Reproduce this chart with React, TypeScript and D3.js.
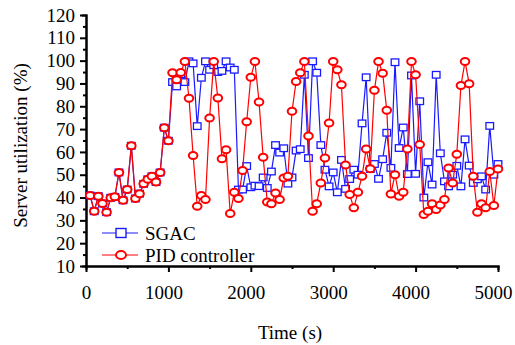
import { useEffect, useRef } from "react"
import * as d3 from "d3"

// sample times: every 50 s from 50 to 5000
const times = d3.range(50, 5001, 50)

const sgac = [
  40.9, 34, 40.6, 37.4, 33.6, 39.9, 40.3, 51, 38.8, 43.5,
  62.7, 39.6, 41.7, 46, 48, 49.3, 46.8, 51, 70.6, 64.9,
  90.6, 88.7, 94, 90.6, 99.7, 98.8, 71.3, 92.5, 99.7, 96,
  98, 95, 95.5, 99.7, 97, 96, 43.5, 43.5, 53.8, 44.5,
  45.2, 45, 48.8, 44.2, 51.4, 63, 59.7, 61.6, 46.1, 48.8,
  60.6, 61.2, 93.8, 57.3, 99.7, 94.7, 63, 52.2, 44.9, 51,
  42.3, 56.5, 43.8, 48.1, 52.2, 50, 72.5, 92.7, 52.5, 54.7,
  48.2, 56.8, 68.4, 53, 99.3, 61.7, 70.7, 50.3, 93.5, 50.4,
  82.2, 40, 55.5, 45.7, 93.8, 59.4, 47.1, 44.9, 50, 53.9,
  44.9, 65.5, 54, 46.4, 48, 49.3, 43.5, 71.4, 50, 54.7,
]

const pid = [
  40.9, 34, 40.6, 37.4, 33.6, 39.9, 40.3, 51, 38.8, 43.5,
  62.7, 39.6, 41.7, 46, 48, 49.3, 46.8, 51, 70.6, 64.9,
  94.7, 91.6, 94.8, 99.6, 83.5, 58.4, 36.2, 40.9, 39.1, 74.9,
  99.6, 83.6, 57, 60.9, 33, 42.3, 39.6, 51.9, 73.2, 92.7,
  99.6, 81.9, 57.7, 38, 37.3, 42, 39.1, 48.6, 49.3, 77.8,
  90.9, 94.7, 99.6, 67, 34, 37.3, 46.4, 57.3, 72.7, 99.6,
  96, 89.4, 54.3, 41.3, 35.5, 42.3, 49.3, 61.3, 52.6, 87,
  99.6, 94.5, 78.3, 41.6, 50, 40.6, 42.3, 61.3, 99.6, 93.8,
  63.3, 32.6, 34, 37.3, 34.8, 36.7, 39.1, 52.9, 46.4, 59,
  89.1, 99.6, 89.9, 49.3, 33.6, 37.3, 35.5, 51.4, 36.5, 52.5,
]

const xTicks = [0, 1000, 2000, 3000, 4000, 5000]
const yTicks = [10, 20, 30, 40, 50, 60, 70, 80, 90, 100, 110, 120]
const seriesNames = ["SGAC", "PID controller"]

export default function App() {
  const svgRef = useRef<SVGSVGElement>(null)

  useEffect(() => {
    if (!svgRef.current) return
    const svg = d3.select(svgRef.current)
    svg.selectAll("*").remove()

    const font = "'Liberation Serif', 'Times New Roman', serif"
    const blue = "#1a1aff"
    const red = "#ff0000"

    const x = d3.scaleLinear().domain([0, 5000]).range([86, 498])
    const y = d3.scaleLinear().domain([10, 120]).range([266, 15])

    // axes
    const xAxis = svg.append("g").attr("transform", `translate(0,${y(10)})`)
    xAxis
      .call(d3.axisBottom(x).tickValues(d3.range(500, 5000, 1000)).tickSize(3).tickFormat(() => ""))
    xAxis.append("g")
      .call(d3.axisBottom(x).tickValues(xTicks).tickSize(6).tickSizeOuter(0).tickPadding(14).tickFormat(d3.format("d")))
    xAxis.selectAll("path, line").attr("stroke", "#000").attr("stroke-width", 2)
    xAxis.selectAll("text")
      .attr("fill", "#000")
      .attr("dx", (d) => (d === 0 ? 0 : -5))
      .style("font-family", font)
      .style("font-size", "19px")

    const yAxis = svg.append("g").attr("transform", `translate(${x(0)},0)`)
    yAxis.call(d3.axisLeft(y).tickValues(d3.range(15, 120, 10)).tickSize(3).tickFormat(() => ""))
    yAxis.append("g")
      .call(d3.axisLeft(y).tickValues(yTicks).tickSize(6).tickSizeOuter(0).tickPadding(5))
    yAxis.selectAll("path, line").attr("stroke", "#000").attr("stroke-width", 2)
    yAxis.selectAll("text").attr("fill", "#000").style("font-family", font).style("font-size", "19px")
    svg.selectAll(".domain").attr("stroke-linecap", "square")

    // axis titles
    svg.append("text")
      .attr("x", 290)
      .attr("y", 339)
      .attr("text-anchor", "middle")
      .style("font-family", font)
      .style("font-size", "19px")
      .text("Time (s)")

    svg.append("text")
      .attr("transform", `translate(27,${(y(10) + y(120)) / 2 + 5}) rotate(-90)`)
      .attr("text-anchor", "middle")
      .style("font-family", font)
      .style("font-size", "19px")
      .text("Server utilization (%)")

    const line = d3.line<number>().x((d, i) => x(times[i])).y((d) => y(d))

    // SGAC
    svg.append("path")
      .datum(sgac)
      .attr("d", line)
      .attr("fill", "none")
      .attr("stroke", blue)
      .attr("stroke-width", 1.2)
    svg.append("g")
      .selectAll("rect")
      .data(sgac)
      .enter()
      .append("rect")
      .attr("x", (d, i) => x(times[i]) - 3.8)
      .attr("y", (d) => y(d) - 3.3)
      .attr("width", 7.6)
      .attr("height", 6.6)
      .attr("fill", "#fff")
      .attr("stroke", blue)
      .attr("stroke-width", 1.3)

    // PID controller
    svg.append("path")
      .datum(pid)
      .attr("d", line)
      .attr("fill", "none")
      .attr("stroke", red)
      .attr("stroke-width", 1.2)
    svg.append("g")
      .selectAll("ellipse")
      .data(pid)
      .enter()
      .append("ellipse")
      .attr("cx", (d, i) => x(times[i]))
      .attr("cy", (d) => y(d))
      .attr("rx", 4.3)
      .attr("ry", 3.5)
      .attr("fill", "#fff")
      .attr("stroke", red)
      .attr("stroke-width", 2)

    // legend
    const legend = svg.append("g")
    const rows = [
      { name: seriesNames[0], color: blue, y: 233 },
      { name: seriesNames[1], color: red, y: 255 },
    ]
    rows.forEach((r, i) => {
      legend.append("line")
        .attr("x1", 102).attr("x2", 138)
        .attr("y1", r.y).attr("y2", r.y)
        .attr("stroke", r.color)
        .attr("stroke-width", 1.2)
      if (i === 0) {
        legend.append("rect")
          .attr("x", 116).attr("y", r.y - 4.5)
          .attr("width", 10).attr("height", 9)
          .attr("fill", "#fff")
          .attr("stroke", r.color)
          .attr("stroke-width", 1.4)
      } else {
        legend.append("ellipse")
          .attr("cx", 121).attr("cy", r.y)
          .attr("rx", 5).attr("ry", 4)
          .attr("fill", "#fff")
          .attr("stroke", r.color)
          .attr("stroke-width", 2)
      }
      legend.append("text")
        .attr("x", 145)
        .attr("y", r.y + 7)
        .style("font-family", font)
        .style("font-size", "19px")
        .text(r.name)
    })
  }, [])

  return (
    <svg
      ref={svgRef}
      width={515}
      height={345}
      style={{ position: "absolute", left: 0, top: 0, background: "#fff" }}
    ></svg>
  )
}
